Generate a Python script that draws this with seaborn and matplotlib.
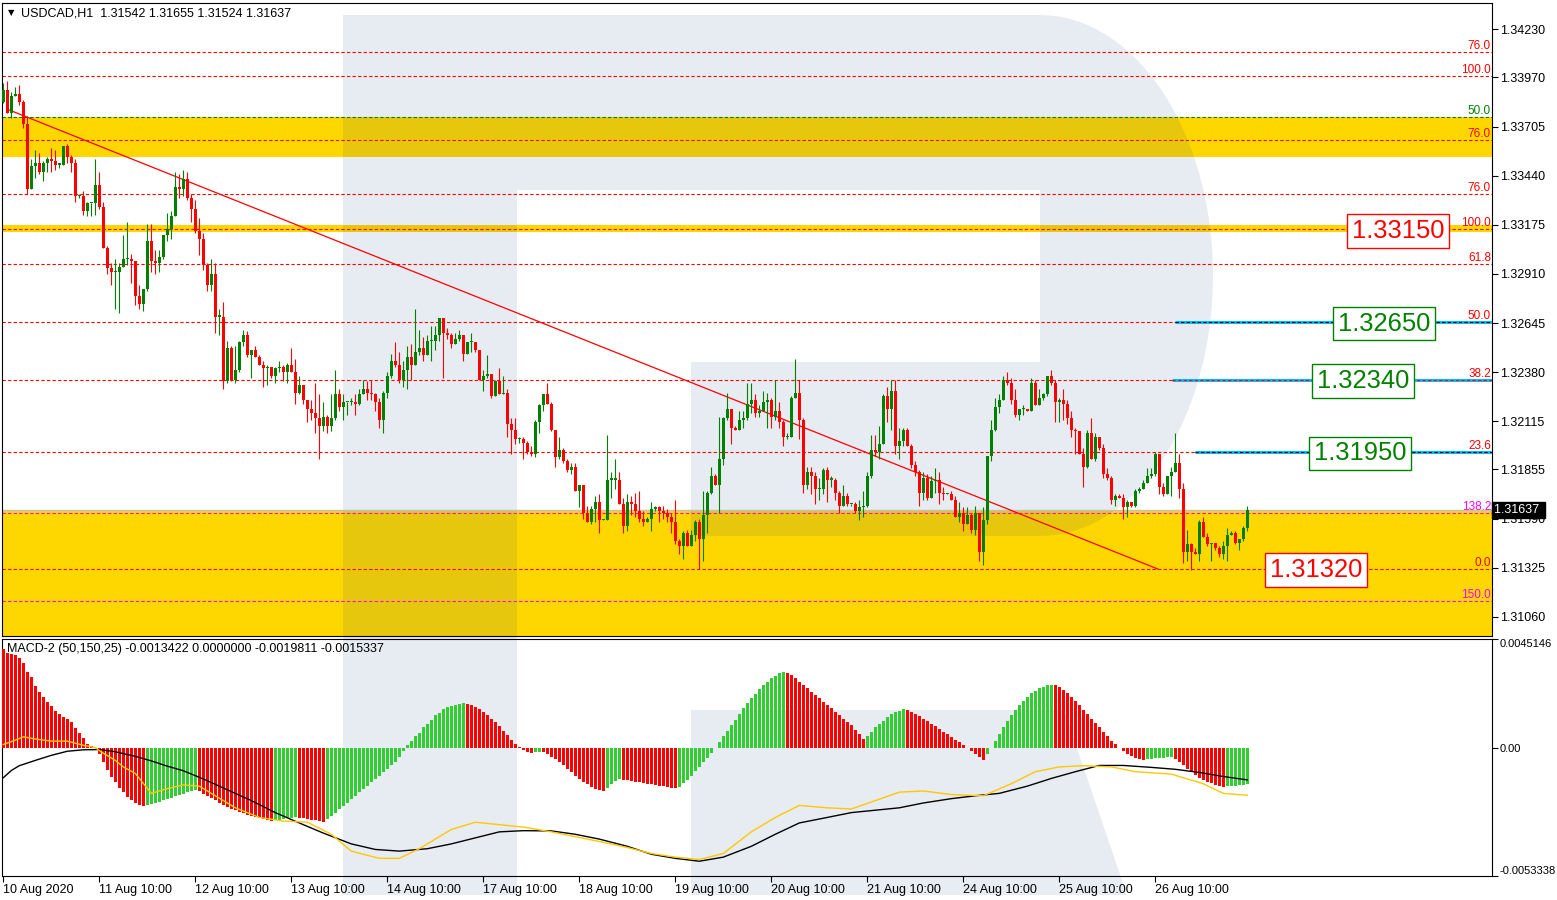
import numpy as np
import pandas as pd
import seaborn as sns
import matplotlib.pyplot as plt
import matplotlib.transforms as mtransforms
from matplotlib.patches import Polygon

W, H = 1557, 900

# ---- USDCAD H1 candles, pips above 1.3100 (open = previous close) ----
first_open = 284
close_pips = [
    290, 278, 287, 288, 284, 272, 237, 249, 251, 246, 251, 253, 252, 250, 250, 260, 254, 251, 233, 233,
    225, 229, 229, 239, 227, 205, 194, 192, 192, 195, 199, 199, 198, 179, 175, 183, 209, 198, 197, 200,
    212, 215, 222, 238, 237, 242, 232, 226, 214, 210, 196, 185, 191, 168, 168, 133, 151, 134, 139, 154,
    158, 147, 150, 146, 142, 140, 141, 136, 140, 141, 138, 142, 138, 127, 131, 123, 118, 116, 113, 109,
    114, 109, 113, 126, 119, 122, 122, 122, 121, 126, 129, 127, 126, 122, 112, 127, 136, 144, 142, 134,
    139, 146, 142, 149, 151, 147, 155, 155, 158, 167, 159, 158, 153, 156, 158, 148, 154, 154, 150, 134,
    136, 137, 125, 133, 126, 127, 110, 107, 102, 102, 100, 95, 94, 111, 120, 126, 121, 107, 92, 96,
    90, 85, 87, 74, 77, 62, 57, 64, 68, 58, 58, 80, 80, 80, 67, 55, 68,
    67, 63, 59, 57, 59, 64, 65, 63, 62, 60, 57, 47, 44, 51, 44, 50, 57, 48, 61, 73,
    82, 77, 91, 113, 118, 108, 107, 112, 113, 121, 123, 116, 117, 122, 123, 114, 117, 111, 103, 103,
    124, 127, 112, 77, 84, 82, 75, 75, 85, 80, 80, 73, 66, 71, 67, 67, 63, 65, 66, 82,
    96, 95, 99, 125, 118, 128, 98, 101, 107, 98, 88, 84, 73, 81, 70, 79, 80,
    73, 72, 72, 69, 60, 62, 56, 61, 53, 62, 41, 58, 93, 107, 119, 123, 134, 132, 123, 115,
    118, 118, 117, 132, 120, 124, 126, 136, 132, 122, 123, 121, 113, 107, 106, 94, 87, 105, 91, 103,
    97, 83, 81, 69, 71, 70, 65, 68, 66, 74, 75, 78, 82, 83, 94, 76, 72, 82, 84, 89,
    75, 41, 45, 41, 40, 57, 49, 45, 46, 43, 40, 44, 50, 51, 46, 48, 54, 63.7,
]
high_pips = [
    294, 295, 289, 292, 293, 285, 276, 253, 258, 256, 252, 254, 259, 258, 251, 260, 261, 255, 253, 234,
    236, 230, 229, 253, 246, 230, 206, 197, 199, 197, 212, 219, 202, 198, 185, 183, 218, 218, 204, 204,
    212, 224, 225, 246, 245, 247, 246, 234, 231, 221, 213, 197, 199, 197, 172, 176, 155, 152, 152, 155,
    161, 160, 150, 152, 147, 144, 142, 141, 141, 144, 142, 143, 151, 145, 136, 131, 123, 123, 132, 126,
    122, 115, 126, 139, 129, 126, 122, 124, 126, 129, 134, 133, 134, 127, 124, 128, 138, 148, 154, 149,
    144, 152, 153, 172, 161, 157, 158, 163, 163, 167, 159, 162, 159, 159, 161, 158, 154, 159, 154, 150,
    139, 147, 137, 134, 140, 136, 129, 113, 113, 103, 103, 101, 98, 112, 121, 126, 132, 122, 107, 103,
    97, 91, 89, 89, 77, 77, 66, 66, 71, 72, 59, 104, 84, 91, 84, 70, 72,
    71, 73, 74, 63, 60, 68, 66, 66, 66, 64, 62, 69, 48, 52, 53, 53, 58, 59, 74, 74,
    87, 83, 114, 114, 127, 116, 109, 117, 117, 132, 132, 126, 120, 128, 127, 124, 134, 122, 112, 105,
    125, 145, 134, 113, 87, 87, 84, 81, 86, 87, 82, 81, 74, 77, 73, 67, 68, 69, 74, 84,
    104, 104, 109, 126, 130, 134, 134, 108, 108, 108, 99, 90, 85, 84, 83, 82, 86,
    84, 76, 73, 74, 71, 68, 65, 65, 62, 66, 62, 65, 93, 112, 124, 126, 136, 138, 135, 129,
    118, 120, 118, 135, 134, 129, 127, 136, 139, 134, 124, 129, 123, 117, 108, 106, 97, 107, 113, 105,
    103, 99, 86, 82, 72, 72, 72, 69, 68, 75, 76, 80, 86, 86, 95, 94, 78, 82, 87, 105,
    94, 78, 53, 46, 43, 58, 60, 51, 46, 45, 44, 47, 54, 52, 52, 48, 55, 65.5,
]
low_pips = [
    283, 278, 275, 287, 282, 270, 234, 237, 243, 245, 241, 246, 246, 247, 248, 250, 251, 246, 230, 232,
    223, 222, 222, 223, 226, 205, 191, 185, 172, 170, 195, 196, 186, 174, 172, 171, 182, 192, 191, 192,
    199, 209, 210, 222, 232, 233, 231, 219, 213, 201, 193, 182, 182, 159, 158, 129, 132, 133, 132, 138,
    152, 146, 135, 146, 142, 130, 131, 135, 132, 138, 133, 132, 138, 121, 126, 121, 111, 112, 105, 91,
    106, 105, 106, 112, 117, 112, 115, 120, 115, 120, 126, 123, 123, 117, 108, 105, 124, 135, 141, 132,
    130, 129, 134, 142, 147, 144, 147, 144, 150, 155, 135, 156, 151, 153, 155, 144, 148, 149, 149, 134,
    128, 135, 124, 125, 126, 126, 103, 94, 99, 100, 91, 94, 93, 92, 105, 117, 121, 106, 87, 91,
    89, 84, 83, 74, 65, 59, 57, 56, 57, 51, 58, 58, 70, 75, 67, 51, 52,
    61, 60, 57, 55, 57, 52, 63, 57, 59, 57, 51, 45, 40, 37, 44, 44, 47, 32, 36, 51,
    72, 77, 62, 88, 112, 99, 107, 108, 108, 112, 116, 114, 114, 117, 108, 108, 112, 108, 98, 102,
    103, 124, 102, 73, 75, 72, 67, 69, 72, 68, 76, 69, 62, 66, 66, 66, 62, 58, 60, 65,
    81, 93, 91, 99, 111, 107, 94, 91, 98, 98, 86, 82, 66, 69, 69, 71, 73,
    67, 69, 72, 69, 60, 57, 52, 56, 51, 50, 36, 34, 56, 90, 106, 116, 123, 131, 121, 114,
    112, 115, 117, 117, 120, 120, 123, 125, 131, 111, 111, 112, 110, 103, 94, 94, 76, 86, 91, 90,
    96, 81, 80, 67, 66, 70, 59, 60, 65, 65, 73, 75, 78, 81, 82, 72, 71, 72, 71, 84,
    70, 35, 36, 31, 40, 36, 49, 44, 36, 42, 38, 37, 36, 50, 45, 42, 47, 52.4,
]

date_labels = ["10 Aug 2020", "11 Aug 10:00", "12 Aug 10:00", "13 Aug 10:00", "14 Aug 10:00",
               "17 Aug 10:00", "18 Aug 10:00", "19 Aug 10:00", "20 Aug 10:00", "21 Aug 10:00",
               "24 Aug 10:00", "25 Aug 10:00", "26 Aug 10:00"]
price_ticks = [1.34230, 1.33970, 1.33705, 1.33440, 1.33175, 1.32910, 1.32645,
               1.32380, 1.32115, 1.31855, 1.31590, 1.31325, 1.31060]

fib_levels = [1.34109, 1.33980, 1.33758, 1.33630, 1.33343, 1.33150, 1.32964,
              1.32650, 1.32340, 1.31950, 1.31622, 1.31320, 1.31146]
fib_texts = ["76.0", "100.0", "50.0", "76.0", "76.0", "100.0", "61.8",
             "50.0", "38.2", "23.6", "138.2", "0.0", "150.0"]
fib_colors = ["red", "red", "green", "red", "red", "red", "red",
              "red", "red", "red", "magenta", "red", "magenta"]

zones = [(1.33543, 1.33758), (1.33136, 1.33175), (1.30900, 1.31633)]

box_prices = [1.33150, 1.32650, 1.32340, 1.31950, 1.31320]
box_colors = ["red", "green", "green", "green", "red"]
blue_prices = [1.32650, 1.32340, 1.31950]

trend_bars = [0.85, 288.7]
trend_prices = [1.33800, 1.31317]
last_price = 1.31637

# ---- MACD-2 (50,150,25), values in 1e-4 ----
hist_vals = [
    41, 39.5, 38.9, 38.3, 37.2, 35.3, 31.6, 29.3, 25.6, 23.1, 20.9, 18.9, 17.2, 15.1, 13.9, 12.6, 11.7, 10.5, 8, 5.9, 3.8, 1.7, 0.5, -0.3,
    -2.5, -5.8, -9.3, -12.1, -14.4, -16.7, -18.6, -20.5, -21.9, -22.8, -23.7, -24.2,
    -23.9, -23.5, -23.1, -22.5, -21.9, -21.4, -20.8, -20.3, -19.7, -19.2, -18.6, -18.1, -17.7,
    -18.1, -19.1, -20, -20.9, -21.9, -22.8, -23.7, -24.6, -25.4, -26, -26.7, -27.2, -27.9, -28.4, -28.8, -29.3, -29.8, -30.1, -30.5,
    -30.2, -29.9, -29.7, -29.4, -29.1, -28.8,
    -29.1, -29.4, -29.7, -29.9, -30.2, -30.5, -30.7,
    -29.8, -28.4, -27, -25.6, -24.2, -22.8, -21.4, -20, -18.6, -17.2, -15.8, -14.4, -13, -11.6, -10.2, -8.8, -7.4, -5.8, -3.8, -1.6,
    1.2, 2.7, 4.7, 6.2, 8.4, 9.7, 11.3, 13.4, 14.6, 15.9, 16.7, 17.5, 17.9, 18.2, 18.4,
    18.1, 17.7, 17, 16.1, 14.9, 13.5, 12.1, 10.5, 8.8, 7, 5.1, 3.3, 1.6, 0.3,
    -0.9, -1.7, -2.3, -2, -1.7, -2, -2.8, -3.7, -4.7,
    -6, -7.4, -8.8, -10.2, -11.6, -13, -14.2, -15.3, -16.3, -17, -17.7, -18.1,
    -16.7, -15.3, -14, -13,
    -13.3, -13.6, -13.9, -14.1, -14.4, -14.7, -15, -15.3, -15.6, -15.8, -16.1, -16.4, -16.7, -16.9,
    -16.3, -14.9, -13.5, -11.6, -9.8, -7.9, -6, -4.2, -2.3,
    0, 2.3, 4.7, 7, 9.3, 11.6, 14, 16.3, 18.6, 20.5, 22.3, 24.2, 26, 27.4, 28.8, 29.9, 30.9, 31.4,
    31.2, 30.2, 28.8, 27.4, 26, 24.6, 23.3, 21.9, 20.5, 19.1, 17.7, 16.3, 14.9, 13.5, 12.1, 10.7, 9.3, 7.4, 5.6, 3.7,
    4.7, 6.5, 8.4, 9.8, 11.2, 12.6, 13.8, 14.7, 15.4, 15.9,
    15.6, 14.9, 14, 13, 12.1, 11.2, 10, 8.9, 7.8, 6.7, 5.6, 4.5, 3.3, 2.2, 1.1, 0, -1.4, -2.8, -4, -5,
    -2.8, 0, 2.8, 5.6, 8.4, 11.2, 13.5, 15.8, 17.7, 19.5, 21.1, 22.5, 23.7, 24.6, 25.4, 25.9, 26.1,
    25.9, 25.1, 24, 22.6, 21, 19.3, 17.7, 15.8, 14, 12.1, 10.2, 8.4, 6.5, 4.7, 2.8, 1.4, 0,
    -1.4, -2.6, -3.5, -4.3, -4.8, -5.2,
    -4.9, -4.7, -4.5, -4.3, -4.1, -3.9, -3.7,
    -4.7, -6, -7.4, -8.8, -10.2, -11.4, -12.6, -13.5, -14.2, -14.9, -15.4, -15.9, -16.3,
    -16, -15.9, -15.8, -15.6, -15.5, -15.3,
]
black_bars = [0, 2, 4, 8, 12, 16, 20, 24, 28, 33, 37, 41, 45, 50, 56, 62, 68, 74, 80, 87,
              93, 99, 106, 112, 118, 124, 130, 137, 143, 149, 156, 162, 168, 174, 180, 187, 193, 199, 206, 212,
              218, 224, 230, 237, 243, 249, 256, 262, 268, 274, 280, 287, 293, 299, 305, 311]
black_vals = [-12.5, -9.5, -7.5, -5.3, -3.2, -1.5, -0.9, -0.8, -1.7, -3.6, -5.5, -7.7, -9.6, -13, -17.5, -22, -27, -31.3, -35.5, -40,
              -42.3, -43, -42, -40, -37.5, -35, -34.5, -34.6, -36, -38, -41, -44.3, -46, -47.2, -45.5, -41, -36, -31.3, -29, -27,
              -26, -25, -23, -21.2, -20, -19, -16, -12.8, -10, -7.4, -7.4, -8.2, -9, -10.3, -12, -13.4]
yellow_bars = [0, 3, 5, 8, 12, 16, 20, 23, 25, 28, 30, 33, 37, 41, 45, 49, 53, 58, 64, 70,
               76, 82, 87, 94, 99, 104, 112, 118, 124, 130, 137, 143, 149, 156, 162, 168, 174, 180, 187, 193,
               199, 206, 212, 218, 224, 230, 237, 245, 252, 258, 264, 270, 277, 283, 292, 300, 305, 311]
yellow_vals = [1.3, 3.1, 4.5, 3.6, 2.7, 2.7, 1.0, 0, -2.3, -5.3, -8, -10.7, -19, -17, -15.5, -16, -20, -25, -29, -30.5,
               -31, -36, -43, -46, -46, -42, -34, -31, -32, -33, -35, -37, -39, -41.5, -44, -45.5, -46.5, -44, -35, -29,
               -24, -25, -25.5, -22, -18.5, -18, -19.5, -20, -15, -10, -8, -7.5, -8, -10, -11, -15, -19, -19.8]

assert len(close_pips) == len(high_pips) == len(low_pips) == len(hist_vals)

plt.rcParams['font.family'] = ['Liberation Sans', 'DejaVu Sans']

n = len(close_pips)
idx = np.arange(n)
c = 1.31 + np.array(close_pips) / 1e4
o = np.r_[1.31 + first_open / 1e4, c[:-1]]
h = np.maximum(1.31 + np.array(high_pips) / 1e4, np.maximum(o, c))
l = np.minimum(1.31 + np.array(low_pips) / 1e4, np.minimum(o, c))


def px2bar(x):
    return (x - 3.3) / 4.0


fig = plt.figure(figsize=(W / 100, H / 100), dpi=100, facecolor='white')
ax1 = fig.add_axes([2 / W, 1 - 636 / H, 1490 / W, 633 / H])
ax2 = fig.add_axes([2 / W, 1 - 876 / H, 1490 / W, 237 / H])

# watermark logo
t = np.linspace(np.pi / 2, -np.pi / 2, 60)
arc = np.c_[1040 + 173 * np.cos(t), 275.5 - 260.5 * np.sin(t)]
stem = np.array([[343, 15], [517, 15], [517, 895], [343, 895]])
bowl = np.vstack([[[517, 15]], arc, [[691, 536], [691, 362], [1040, 362], [1040, 190], [517, 190]]])
leg = np.array([[691, 710], [1064, 710], [1127, 895], [691, 895]])
for s in (stem, bowl, leg):
    fs = np.c_[s[:, 0] / W, 1 - s[:, 1] / H]
    fig.add_artist(Polygon(fs, closed=True, transform=fig.transFigure, fc='#E8ECF3', ec='none', zorder=-1))
    for ax in (ax1, ax2):
        ax.add_patch(Polygon(fs, closed=True, transform=fig.transFigure,
                             fc=(25 / 255, 65 / 255, 135 / 255, 0.1), ec='none', zorder=1.5))

# ---- price pane ----
for lo, hi in zones:
    ax1.axhspan(lo, hi, color='#FFD700', lw=0, zorder=1)

blend1 = mtransforms.blended_transform_factory(ax1.transAxes, ax1.transData)
for p, txt, col in zip(fib_levels, fib_texts, fib_colors):
    ax1.axhline(p, color=col, lw=0.8, ls=(0, (3, 2)), zorder=2)
    ax1.text(0.9993, p, txt, transform=blend1, ha='right', va='bottom', fontsize=8.5, color=col, zorder=5)

ax1.axhline(last_price, color='#C0C0C0', lw=1, zorder=2.1)

xmax = px2bar(1492)
for p, xs, dc in zip(blue_prices, [1175, 1172, 1195], ['black', 'red', 'black']):
    ax1.hlines(p, px2bar(xs), xmax, color='#00BFFF', lw=2.2, zorder=2.6)
    ax1.hlines(p, px2bar(xs), xmax, color=dc, lw=0.8, ls=(0, (3, 2)), zorder=2.7)

ax1.plot(trend_bars, trend_prices, color='red', lw=0.9, zorder=2.5)

up = c >= o
cols = np.where(up, '#008000', '#FF0000')
ax1.vlines(idx, l, h, colors=cols, lw=0.8, zorder=3)
body = np.maximum(np.abs(c - o), 0.00006)
ax1.bar(idx, body, bottom=np.minimum(o, c), width=0.75, color=cols, lw=0, zorder=3.1)

for p, col, xc in zip(box_prices, box_colors, [1398, 1384, 1363, 1360, 1316]):
    ax1.text(px2bar(xc), p - 0.00008, f"{p:.5f}", ha='center', va='center', fontsize=18.4, color=col,
             bbox=dict(boxstyle='square,pad=0.18', fc='white', ec=col, lw=1), zorder=6)

ax1.text(1.0015, last_price, "1.31637 ", transform=blend1, ha='left', va='center', fontsize=9,
         color='white', bbox=dict(boxstyle='square,pad=0.15', fc='black', ec='black'),
         zorder=10, clip_on=False)

ax1.set_xlim(px2bar(2), xmax)
ax1.set_ylim(1.30956, 1.34372)
ax1.yaxis.tick_right()
ax1.set_yticks(price_ticks, [f"{v:.5f}" for v in price_ticks])
ax1.set_xticks([])
ax1.tick_params(axis='y', length=4, width=0.8, pad=2, labelsize=9)

fig.text(21 / W, 1 - 13 / H, "USDCAD,H1  1.31542 1.31655 1.31524 1.31637", fontsize=9, va='center')
fig.text(8 / W, 1 - 13 / H, "\u25BC", fontsize=6, family='DejaVu Sans', va='center')

# ---- MACD pane ----
hist = np.array(hist_vals) * 1e-4
direction = ['up' if i > 0 and hist[i] > hist[i - 1] else 'down' for i in range(n)]
df = pd.DataFrame({'bar': idx, 'hist': hist, 'dir': direction})
sns.barplot(data=df, x='bar', y='hist', hue='dir', palette={'up': '#32CD32', 'down': '#FF0000'},
            native_scale=True, width=0.8, dodge=False, legend=False, errorbar=None,
            saturation=1, linewidth=0, ax=ax2, zorder=3)
sns.lineplot(x=black_bars, y=np.array(black_vals) * 1e-4, color='black', lw=1, ax=ax2, zorder=4)
sns.lineplot(x=yellow_bars, y=np.array(yellow_vals) * 1e-4, color='#FFC800', lw=1, ax=ax2, zorder=4)

ax2.set_xlim(px2bar(2), xmax)
ax2.set_ylim(-0.0053338, 0.0045146)
ax2.yaxis.tick_right()
ax2.set_yticks([-0.0053338, 0, 0.0045146], ["-0.0053338", "0.00", "0.0045146"])
ylabs = ax2.get_yticklabels()
ylabs[0].set_va('bottom')
ylabs[2].set_va('top')
ax2.set_xticks(np.arange(0, 289, 24), date_labels)
for lab in ax2.get_xticklabels():
    lab.set_ha('left')
ax2.tick_params(axis='x', length=4, width=0.8, pad=1.5, labelsize=9)
ax2.tick_params(axis='y', length=4, width=0.8, pad=1.5, labelsize=8)
ax2.set_xlabel('')
ax2.set_ylabel('')
ax2.text(5 / 1490, 1 - 10 / 237, "MACD-2 (50,150,25) -0.0013422 0.0000000 -0.0019811 -0.0015337",
         transform=ax2.transAxes, fontsize=9, va='center', zorder=6)

for ax in (ax1, ax2):
    ax.set_facecolor('white')
    for sp in ax.spines.values():
        sp.set_color('black')
        sp.set_linewidth(0.8)

fig.savefig('out.png', dpi=100)
